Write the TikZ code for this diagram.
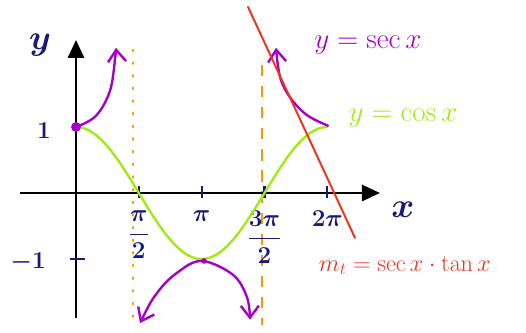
\documentclass[tikz,border=0pt]{standalone}
\usepackage{amsmath,amssymb}
\usepackage{xcolor}
\usepackage{tikz}
\usetikzlibrary{arrows.meta}

\definecolor{inkblue}{RGB}{25,25,120}
\definecolor{secpurple}{RGB}{165,0,200}
\definecolor{cosgreen}{RGB}{160,235,20}
\definecolor{asymorange}{RGB}{255,150,0}
\definecolor{tanred}{RGB}{240,50,30}

\begin{document}
\begin{tikzpicture}[x=1cm,y=1.65cm,
  axis/.style={line width=2pt,-{Triangle[length=0.45cm,width=0.4cm]}},
  curve/.style={line width=1.7pt,line cap=round,line join=round},
  secarrow/.style={curve,secpurple,-{Straight Barb[length=0.3cm,width=0.45cm]}},
  ink/.style={inkblue,font=\fontsize{18}{20}\selectfont\boldmath}]
  \useasboundingbox (-1.9cm,-3.475cm) rectangle (11.25cm,4.825cm);

  % Asymptotes
  \draw[asymorange,line width=1.6pt,line cap=round,dash pattern=on 1pt off 8pt] (1.43,2.17) -- (1.43,-2.0);
  \draw[asymorange,line width=1.6pt,dash pattern=on 8pt off 7pt] (4.65,1.94) -- (4.65,-2.0);

  % Axes
  \coordinate (xstart) at (-1.4,0);
  \coordinate (xend) at (7.6,0);
  \coordinate (ystart) at (0,-1.9);
  \coordinate (yend) at (0,2.32);
  \draw[axis] (xstart) -- (xend);
  \draw[axis] (ystart) -- (yend);
  \node[inkblue,font=\fontsize{30}{32}\selectfont\boldmath] (ylab) at (-0.9,2.24) {$y$};
  \node[inkblue,font=\fontsize{26}{28}\selectfont\boldmath] (xlab) at (8.175,-0.26) {$x$};

  % Ticks on the x axis
  \foreach \t/\lab [count=\i] in {1.5708/{\dfrac{\pi}{2}},3.1416/{\pi},4.7124/{\dfrac{3\pi}{2}},6.2832/{2\pi}} {
    \draw[inkblue,line width=1.6pt] (\t,0.1) -- (\t,-0.08);
    \node[ink,anchor=north] (tick\i) at (\t,-0.2) {$\lab$};
  }

  % Ticks on the y axis
  \node[ink] (one) at (-0.8,0.95) {$1$};
  \draw[inkblue,line width=1.6pt] (-0.15,-1) -- (0.22,-1);
  \node[ink] (minusone) at (-1.2,-1.045) {$-1$};

  % y = cos x
  \draw[curve,cosgreen] plot[domain=0:6.2832,samples=80,smooth] (\x,{cos(\x r)});

  % y = sec x
  \draw[secarrow] plot[smooth,tension=0.6] coordinates {(0,1) (0.5,1.17) (0.85,1.55) (0.98,2.05) (1.0,2.2)};
  \draw[secarrow,{Straight Barb[length=0.3cm,width=0.45cm]}-{Straight Barb[length=0.3cm,width=0.45cm]}]
    plot[smooth,tension=0.6] coordinates {(1.6,-1.97) (2.025,-1.515) (2.525,-1.21) (3.14,-1.03) (3.925,-1.24) (4.275,-1.58) (4.35,-1.92)};
  \draw[secarrow] plot[smooth,tension=0.6] coordinates {(6.3,1.02) (5.775,1.18) (5.35,1.45) (5.1,1.76) (5.0,2.2)};
  \fill[secpurple] (0,1) circle (3.5pt);
  \fill[secpurple] (3.2,-1.03) circle (2pt);

  % Tangent line
  \coordinate (tantop) at (4.3,2.82);
  \coordinate (tanbottom) at (6.975,-0.68);
  \draw[tanred,line width=1.4pt,line cap=round] (tantop) -- (tanbottom);

  % Labels
  \node[secpurple,font=\fontsize{22}{24}\selectfont] (seclab) at (7.3,2.24) {$y=\sec x$};
  \node[cosgreen,font=\fontsize{20}{22}\selectfont] (coslab) at (8.175,1.14) {$y=\cos x$};
  \node[tanred,font=\fontsize{18.5}{21}\selectfont,anchor=west] (slopelab) at (5.95,-1.1) {$m_t=\sec x\cdot\tan x$};
\end{tikzpicture}
\end{document}
